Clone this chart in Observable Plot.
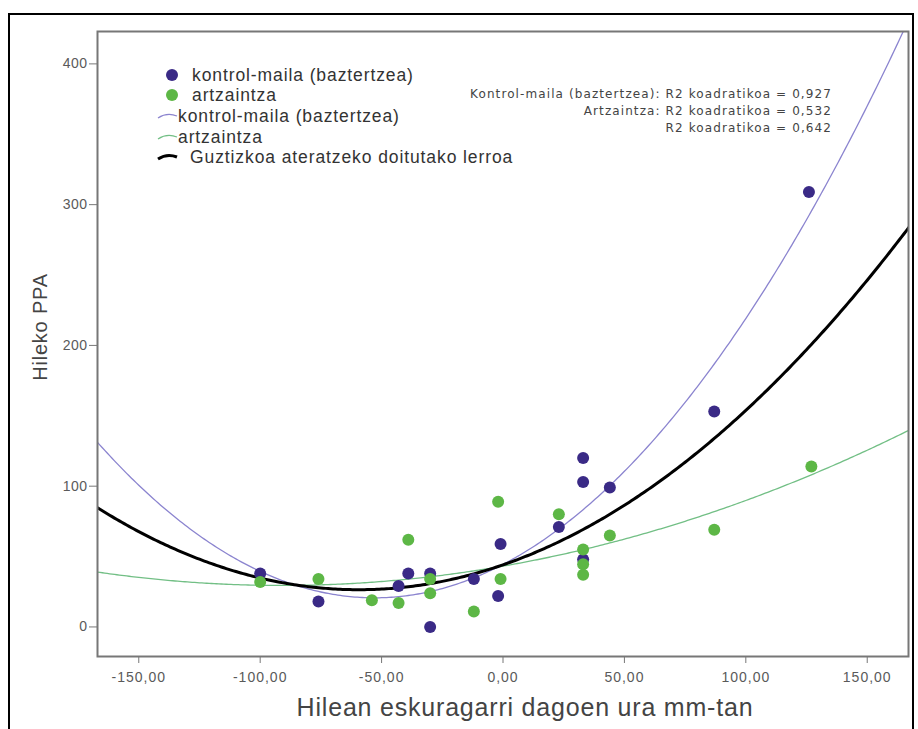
<!DOCTYPE html>
<html><head><meta charset="utf-8">
<script src="https://cdn.jsdelivr.net/npm/d3@7"></script>
<script src="https://cdn.jsdelivr.net/npm/@observablehq/plot@0.6"></script>
<style>
body{margin:0;background:#fff;font-family:"Liberation Sans",Arial,sans-serif;}
#wrap{position:relative;width:918px;height:729px;overflow:hidden;}
#outer{position:absolute;left:8px;top:13px;width:902px;height:740px;border:2px solid #000;}
.lg{position:absolute;font-size:17.5px;letter-spacing:0.9px;color:#333;line-height:20px;white-space:nowrap;}
.r2{position:absolute;right:86px;font-family:"DejaVu Sans",sans-serif;font-size:12px;letter-spacing:1.1px;color:#444;white-space:nowrap;text-align:right;line-height:14px;}
svg.sw{position:absolute;overflow:visible;}
</style></head>
<body><div id="wrap"><div id="outer"></div></div>
<script>
// Data: x = available water (mm), y = monthly PPA
const controlX = [-100, -76, -43, -39, -30, -30, -12, -2, -1, 23, 33, 33, 33, 44, 87, 126];
const controlY = [38, 18, 29, 38, 38, 0, 34, 22, 59, 71, 120, 103, 48, 99, 153, 309];
const grazingX = [-100, -76, -54, -43, -39, -30, -30, -12, -2, -1, 23, 33, 33, 33, 44, 87, 127];
const grazingY = [32, 34, 19, 17, 62, 34, 24, 11, 89, 34, 80, 55, 44.5, 37, 65, 69, 114];
const groups = ["kontrol-maila (baztertzea)", "artzaintza"];
const r2Labels = ["Kontrol-maila (baztertzea): R2 koadratikoa = 0,927", "Artzaintza: R2 koadratikoa = 0,532", "R2 koadratikoa = 0,642"];
const xTicks = [-150, -100, -50, 0, 50, 100, 150];
const yTicks = [0, 100, 200, 300, 400];
const xDomain = [-167, 167];
const yDomain = [-21, 423];

const pts = [
  ...controlX.map((x, i) => ({x, y: controlY[i], g: groups[0]})),
  ...grazingX.map((x, i) => ({x, y: grazingY[i], g: groups[1]}))
];

// quadratic least-squares fit
function quadFit(xs, ys) {
  let S = Array.from({length: 5}, () => 0), T = [0, 0, 0];
  xs.forEach((x, i) => {
    for (let k = 0; k < 5; k++) S[k] += x ** k;
    for (let k = 0; k < 3; k++) T[k] += ys[i] * x ** k;
  });
  const A = [[S[0], S[1], S[2], T[0]], [S[1], S[2], S[3], T[1]], [S[2], S[3], S[4], T[2]]];
  for (let c = 0; c < 3; c++) {
    for (let r = c + 1; r < 3; r++) {
      const f = A[r][c] / A[c][c];
      for (let k = c; k < 4; k++) A[r][k] -= f * A[c][k];
    }
  }
  const b = [0, 0, 0];
  for (let r = 2; r >= 0; r--) {
    let s = A[r][3];
    for (let k = r + 1; k < 3; k++) s -= A[r][k] * b[k];
    b[r] = s / A[r][r];
  }
  return b;
}
const grid = d3.range(xDomain[0], xDomain[1] + 0.5, 1);
function curve(xs, ys) {
  const [a, b, c] = quadFit(xs, ys);
  return grid.map(x => ({x, y: a + b * x + c * x * x}));
}
const cControl = curve(controlX, controlY);
const cGrazing = curve(grazingX, grazingY);
const cAll = curve([...controlX, ...grazingX], [...controlY, ...grazingY]);

const fmt = d => d3.format(".2f")(d).replace(".", ",").replace("−", "-");

const chart = Plot.plot({
  width: 918, height: 729,
  marginLeft: 97, marginRight: 10, marginTop: 31, marginBottom: 73,
  style: {background: "transparent", fontFamily: "Liberation Sans, Arial, sans-serif"},
  x: {domain: xDomain},
  y: {domain: yDomain},
  color: {domain: groups, range: ["#3a2a86", "#5db746"]},
  marks: [
    Plot.axisX({ticks: xTicks, tickFormat: fmt, tickSize: 7, tickPadding: 9, fontSize: 14, color: "#5a5a5a", stroke: "#777", label: null}),
    Plot.axisY({ticks: yTicks, tickFormat: d => String(d), tickSize: 8, tickPadding: 2, fontSize: 14, color: "#5a5a5a", stroke: "#777", label: null}),
    Plot.line(cGrazing, {x: "x", y: "y", stroke: "#72bf85", strokeWidth: 1.3, clip: true}),
    Plot.line(cControl, {x: "x", y: "y", stroke: "#8b84cf", strokeWidth: 1.3, clip: true}),
    Plot.line(cAll, {x: "x", y: "y", stroke: "#000", strokeWidth: 3, clip: true}),
    Plot.dot(pts, {x: "x", y: "y", fill: "g", r: 6}),
    Plot.frame({stroke: "#777", strokeWidth: 2}),
    Plot.text(["Hileko PPA"], {frameAnchor: "left", rotate: -90, textAnchor: "middle", dx: -57, dy: -17, fontSize: 20, fill: "#444"}),
    Plot.text(["Hilean eskuragarri dagoen ura mm-tan"], {frameAnchor: "bottom", textAnchor: "middle", dy: 59, dx: 22, fontSize: 25, fill: "#444"})
  ]
});
chart.style.position = "absolute";
chart.style.left = "0";
chart.style.top = "0";
d3.select(chart).selectAll("g[aria-label='x-axis tick label'] text").style("letter-spacing", "1px");
d3.select(chart).selectAll("g[aria-label='y-axis tick label'] text").style("letter-spacing", "0.5px");
d3.select(chart).selectAll("g[aria-label='text'] text").style("letter-spacing", "0.8px");
const wrap = document.getElementById("wrap");
wrap.appendChild(chart);

// legend
const legendItems = [
  {label: groups[0], kind: "dot", color: "#3a2a86", top: 65, left: 192},
  {label: groups[1], kind: "dot", color: "#5db746", top: 85, left: 192},
  {label: groups[0], kind: "line", color: "#8b84cf", top: 106, left: 178},
  {label: groups[1], kind: "line", color: "#72bf85", top: 127, left: 178},
  {label: "Guztizkoa ateratzeko doitutako lerroa", kind: "bold", color: "#000", top: 147, left: 190}
];
legendItems.forEach(it => {
  const d = document.createElement("div");
  d.className = "lg"; d.textContent = it.label;
  d.style.left = it.left + "px"; d.style.top = it.top + "px";
  wrap.appendChild(d);
  const ns = "http://www.w3.org/2000/svg";
  const s = document.createElementNS(ns, "svg");
  s.setAttribute("class", "sw"); s.setAttribute("width", 24); s.setAttribute("height", 12);
  s.style.left = "156px"; s.style.top = (it.top + 4) + "px";
  if (it.kind === "dot") {
    const c = document.createElementNS(ns, "circle");
    c.setAttribute("cx", 16); c.setAttribute("cy", 6); c.setAttribute("r", 6); c.setAttribute("fill", it.color);
    s.appendChild(c);
  } else {
    const p = document.createElementNS(ns, "path");
    p.setAttribute("d", "M2,8 Q11,2 21,6");
    p.setAttribute("fill", "none"); p.setAttribute("stroke", it.color);
    p.setAttribute("stroke-width", it.kind === "bold" ? 3 : 1.3);
    s.appendChild(p);
  }
  wrap.appendChild(s);
});
r2Labels.forEach((t, i) => {
  const d = document.createElement("div");
  d.className = "r2"; d.textContent = t;
  d.style.top = (87 + i * 17) + "px";
  wrap.appendChild(d);
});
</script></body></html>
